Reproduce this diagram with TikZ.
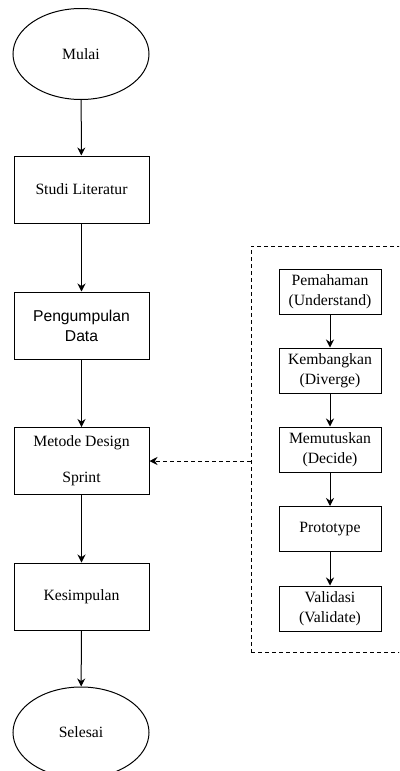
\documentclass[tikz,border=0pt]{standalone}
\usepackage{fontspec}
\setmainfont{Liberation Serif}
\newfontfamily\arialfont{Liberation Sans}
\usetikzlibrary{shapes.geometric,arrows.meta}

\begin{document}
\begin{tikzpicture}[x=1pt, y=-1pt, font=\fontsize{15.7}{20}\selectfont,
	>={Stealth[length=8pt,width=8pt]},
	terminal/.style={draw, ellipse, line width=1pt, minimum width=136pt, minimum height=91pt, inner sep=0pt},
	process/.style={draw, rectangle, line width=1pt, minimum width=135pt, minimum height=67pt, inner sep=1pt, align=center},
	phase/.style={draw, rectangle, line width=1pt, minimum width=102pt, minimum height=45pt, inner sep=1pt, align=center},
	sprintgroup/.style={draw, line width=0.9pt, dash pattern=on 4pt off 3pt, minimum width=159pt, minimum height=406pt}]
\useasboundingbox (0,0) rectangle (399,771);
\clip (0,0) rectangle (399,771);

% main flow
\node[terminal] (mulai)   at (81,54)    {Mulai};
\node[process]  (studi)   at (81.5,189.5) {Studi Literatur};
\node[process]  (data)    at (81.5,325.5) {\arialfont Pengumpulan\\\arialfont Data};
\node[process]  (metode)  at (81.5,461)   {Metode Design\\[16pt]Sprint};
\node[process]  (simpul)  at (81.5,596.5) {Kesimpulan};
\node[terminal] (selesai) at (81,732.5) {Selesai};

% design sprint phases
\node[sprintgroup] (grp) at (330.5,449) {};
\node[phase] (paham)  at (330,291.5) {Pemahaman\\(Understand)};
\node[phase] (kembang) at (330,370.5) {Kembangkan\\(Diverge)};
\node[phase] (putus)  at (330,449.5) {Memutuskan\\(Decide)};
\node[phase] (proto)  at (330,529)   {Prototype};
\node[phase] (valid)  at (330,608.5) {Validasi\\(Validate)};

\path[->, line width=1pt]
(mulai) edge (studi)
(studi) edge (data)
(data) edge (metode)
(metode) edge (simpul)
(simpul) edge (selesai)
(paham) edge (kembang)
(kembang) edge (putus)
(putus) edge (proto)
(proto) edge (valid)
;
\draw[->, line width=0.9pt, dash pattern=on 4pt off 3pt] (grp.west |- metode.east) -- (metode.east);
\end{tikzpicture}
\end{document}
